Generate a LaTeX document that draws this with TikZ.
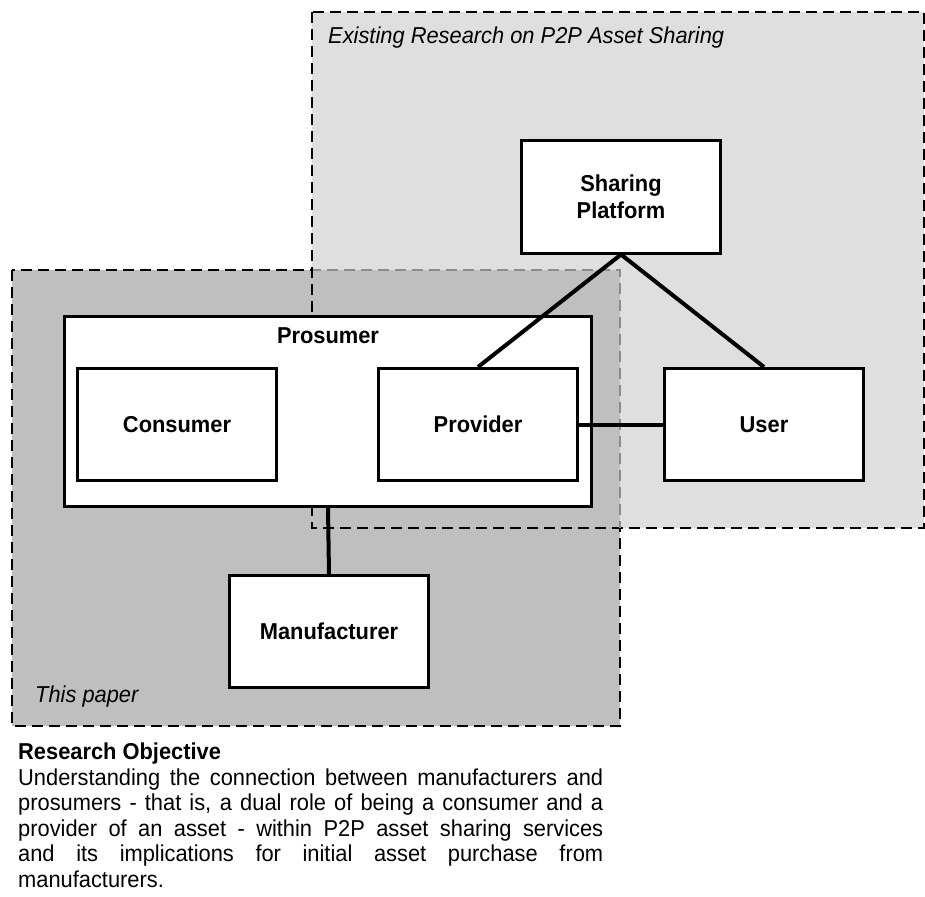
\documentclass[tikz,border=0pt]{standalone}
\usepackage{fontspec}
\setmainfont{Liberation Sans}[FakeStretch=0.95]
\usetikzlibrary{positioning}

\begin{document}
\begin{tikzpicture}[x=1pt,y=-1pt,
    box/.style={draw,line width=3pt,fill=white,minimum width=199pt,minimum height=112pt,
        font=\fontsize{23}{27}\selectfont\bfseries,align=center},
    link/.style={line width=4pt},
    area/.style={line width=2pt,dash pattern=on 11pt off 6pt},
    arealabel/.style={font=\fontsize{23}{27}\selectfont\itshape,anchor=west,inner sep=0pt}]

\useasboundingbox (0,0) rectangle (925,896);

% the two research areas
\fill[gray!25] (312,12) rectangle (924,528);
\fill[gray!50] (12,270) rectangle (620,726);
\draw[area] (312,12) rectangle (924,528);
\draw[area] (12,270) rectangle (620,726);
\begin{scope}
    \clip (313,13) rectangle (923,527);
    \draw[area,black!45] (12,270) rectangle (620,726);
\end{scope}

\node[arealabel] (existing) at (328,38) {Existing Research on P2P Asset Sharing};
\node[arealabel] (thispaper) at (35,697) {This paper};

% actors
\node[box,minimum width=527pt,minimum height=190pt] (prosumer) at (328,411.5) {};
\node[font=\fontsize{23}{27}\selectfont\bfseries,anchor=base,inner sep=0pt] (prosumerlabel) at (328,343) {Prosumer};
\node[box] (platform) at (621,197) {Sharing\\Platform};

\foreach \name/\x/\y/\txt in {consumer/177/424.5/Consumer, provider/478/424.5/Provider,
    user/764/424.5/User, manufacturer/329/631.5/Manufacturer} {
    \node[box] (\name) at (\x,\y) {\txt};
}

\draw[link] (platform.south) -- (provider.north);
\draw[link] (platform.south) -- (user.north);
\draw[link] (provider.east) -- (user.west);
\draw[link] (prosumer.south) -- (manufacturer.north);

\node[anchor=north west,inner sep=0pt,text width=585pt,align=justify,
    font=\fontsize{23}{25.5}\selectfont] (objective) at (18,743)
    {\textbf{Research Objective}\\
    Understanding the connection between manufacturers and\linebreak
    prosumers - that is, a dual role of being a consumer and a\linebreak
    provider of an asset - within P2P asset sharing services\linebreak
    and its implications for initial asset purchase from\linebreak
    manufacturers.};
\end{tikzpicture}
\end{document}
